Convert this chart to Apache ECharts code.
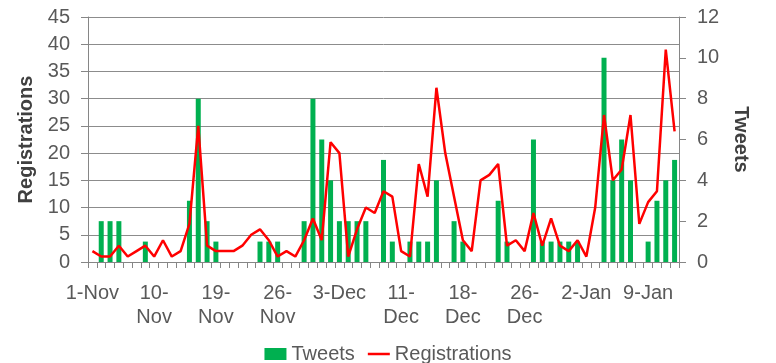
<!DOCTYPE html>
<html>
<head>
<meta charset="utf-8">
<script src="https://cdn.jsdelivr.net/npm/echarts@6/dist/echarts.min.js"></script>
<style>
html,body{margin:0;padding:0;background:#fff;}
#chart{width:776px;height:363px;}
</style>
</head>
<body>
<div id="chart"></div>
<script>
const categories = [
  '1-Nov','2-Nov','3-Nov','4-Nov','6-Nov','7-Nov','8-Nov',
  '10-Nov','11-Nov','12-Nov','14-Nov','15-Nov','16-Nov','17-Nov',
  '19-Nov','20-Nov','21-Nov','22-Nov','23-Nov','24-Nov','25-Nov',
  '26-Nov','27-Nov','28-Nov','29-Nov','30-Nov','1-Dec','2-Dec',
  '3-Dec','4-Dec','5-Dec','6-Dec','7-Dec','9-Dec','10-Dec',
  '11-Dec','12-Dec','13-Dec','14-Dec','15-Dec','16-Dec','17-Dec',
  '18-Dec','19-Dec','20-Dec','21-Dec','22-Dec','23-Dec','24-Dec',
  '26-Dec','27-Dec','28-Dec','29-Dec','30-Dec','31-Dec','1-Jan',
  '2-Jan','3-Jan','4-Jan','5-Jan','6-Jan','7-Jan','8-Jan',
  '9-Jan','10-Jan','11-Jan','12-Jan'
];

const tweets = [
  0,2,2,2,0,0,1,
  0,0,0,0,3,8,2,
  1,0,0,0,0,1,1,
  1,0,0,2,8,6,4,
  2,2,2,2,0,5,1,
  0,1,1,1,4,0,2,
  1,0,0,0,3,1,0,
  0,6,1,1,1,1,1,
  0,0,10,4,6,4,0,
  1,3,4,5
];

const registrations = [
  2,1,1,3,1,2,3,
  1,4,1,2,7,25,3,
  2,2,2,3,5,6,4,
  1,2,1,4,8,4,22,
  20,1,6,10,9,13,12,
  2,1,18,12,32,20,12,
  4,2,15,16,18,3,4,
  2,9,3,8,3,2,4,
  1,10,27,15,17,27,7,
  11,13,39,24
];

const leftTicks = {min: 0, max: 45, interval: 5};
const rightTicks = {min: 0, max: 12, interval: 2};

const txt = '#595959';
const axisGray = '#868686';
const font = 'Liberation Sans, Arial, sans-serif';

const chart = echarts.init(document.getElementById('chart'), null, {renderer: 'canvas'});
chart.setOption({
  animation: false,
  textStyle: {fontFamily: font},
  grid: {left: 88, right: 97, top: 17, bottom: 101, containLabel: false},
  legend: {
    top: 339,
    left: 'center',
    itemWidth: 22,
    itemHeight: 12,
    itemGap: 13,
    symbolKeepAspect: true,
    textStyle: {fontSize: 20, color: txt, fontFamily: font},
    data: [
      {name: 'Tweets', icon: 'rect'},
      {name: 'Registrations', icon: 'path://M0,0L22,0L22,2.5L0,2.5Z', itemStyle: {color: '#FF0000'}}
    ]
  },
  xAxis: {
    type: 'category',
    data: categories,
    boundaryGap: true,
    axisLine: {show: true, lineStyle: {color: axisGray, width: 1}},
    axisTick: {show: true, interval: 0, length: 6, lineStyle: {color: axisGray}},
    axisLabel: {
      interval: 6,
      fontSize: 20,
      color: txt,
      fontFamily: font,
      margin: 19,
      lineHeight: 24,
      formatter: function (v) {
        return v.length > 5 ? v.replace('-', '-\n') : v;
      }
    }
  },
  yAxis: [
    {
      type: 'value',
      min: leftTicks.min, max: leftTicks.max, interval: leftTicks.interval,
      name: 'Registrations',
      nameLocation: 'middle',
      nameGap: 52,
      nameTextStyle: {fontSize: 20, fontWeight: 'bold', color: '#404040', fontFamily: font},
      axisLine: {show: true, lineStyle: {color: axisGray}},
      axisTick: {show: true, length: 7, lineStyle: {color: axisGray}},
      axisLabel: {fontSize: 20, color: txt, fontFamily: font, margin: 18},
      splitLine: {show: true, lineStyle: {color: '#8c8c8c', width: 1}}
    },
    {
      type: 'value',
      position: 'right',
      min: rightTicks.min, max: rightTicks.max, interval: rightTicks.interval,
      name: 'Tweets',
      nameLocation: 'middle',
      nameGap: 50,
      nameRotate: -90,
      nameTextStyle: {fontSize: 20, fontWeight: 'bold', color: '#404040', fontFamily: font},
      axisLine: {show: true, lineStyle: {color: axisGray}},
      axisTick: {show: true, length: 7, lineStyle: {color: axisGray}},
      axisLabel: {fontSize: 20, color: txt, fontFamily: font, margin: 18},
      splitLine: {show: false}
    }
  ],
  series: [
    {
      name: 'Tweets',
      type: 'bar',
      yAxisIndex: 1,
      data: tweets,
      barWidth: 5,
      itemStyle: {color: '#00B050'}
    },
    {
      name: 'Registrations',
      type: 'line',
      yAxisIndex: 0,
      data: registrations,
      symbol: 'none',
      lineStyle: {color: '#FF0000', width: 2.5},
      itemStyle: {color: '#FF0000'}
    }
  ]
});
</script>
</body>
</html>
